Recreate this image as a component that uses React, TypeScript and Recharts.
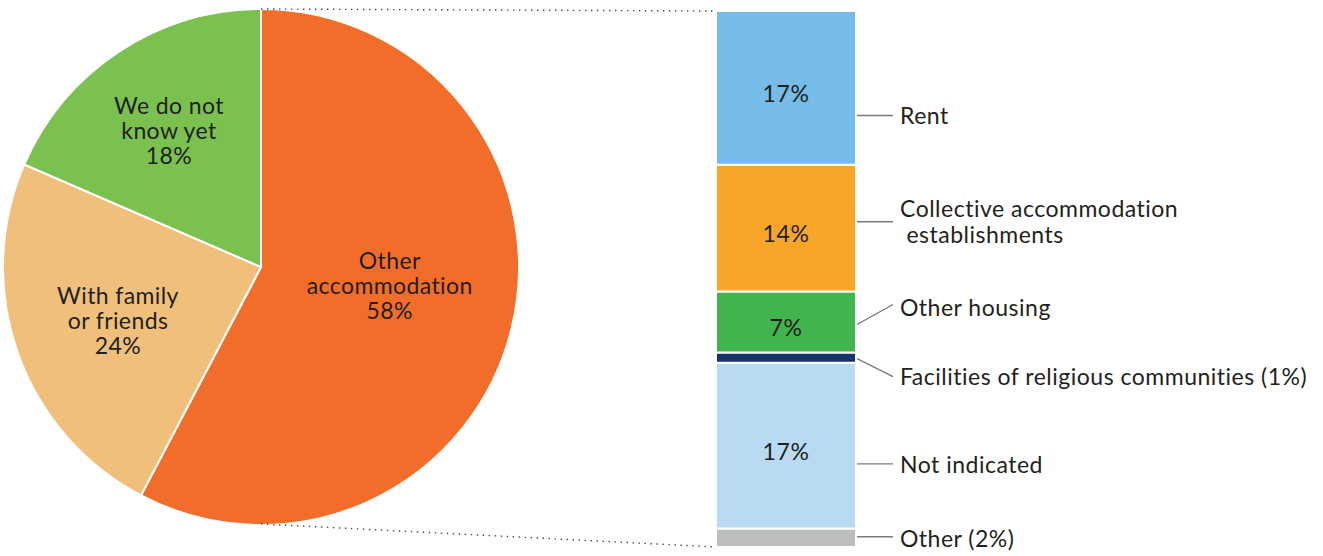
import { PieChart, Pie, Cell, BarChart, Bar, XAxis, YAxis } from "recharts";

// pie: where people intend to stay
const pieNames = ["Other accommodation", "With family or friends", "We do not know yet"];
const pieValues = [57.7, 23.8, 18.5];
const pieLines = [["Other", "accommodation", "58%"], ["With family", "or friends", "24%"], ["We do not", "know yet", "18%"]];
const pieColors = ["#F36D2A", "#F0BF7B", "#7AC150"];

// breakdown of "Other accommodation" (bottom segment first)
const barKeys = ["other", "notIndicated", "religious", "otherHousing", "collective", "rent"];
const barValues = [2.0, 17.9, 1.1, 6.6, 13.7, 16.6];
const barInner = ["", "17%", "", "7%", "14%", "17%"];
const barNames = [["Other (2%)"], ["Not indicated"], ["Facilities of religious communities (1%)"], ["Other housing"], ["Collective accommodation", " establishments"], ["Rent"]];
const barColors = ["#BCBEC0", "#B8DAF3", "#17326B", "#41B34F", "#F9A628", "#75BCE8"];

const W = 1323, H = 556;
const FONT = "Lato, 'Open Sans', sans-serif";
const INK = "#231F20";
const PIE = { cx: 261, cy: 267, r: 258 };
const BAR = { left: 716, right: 856, top: 11, bottom: 547 };

// label placement tweaks (layout only)
const pieLabelR = [130, 152.5, 165];
const pieLabelShift = [5.9, 0.9, 0.6];
const leadFrom = [0.45, 0.61, 0.6, 0.54, 0.45, 0.68];
const leadRise = [0, 0, 18, -20, 0, 0];
const textNudge = [1, 0, -1, 3, -1, 0];

const row: Record<string, number | string> = { name: "x" };
barKeys.forEach((k, i) => (row[k] = barValues[i]));
const barData = [row];
const total = barValues.reduce((a, b) => a + b, 0);
const pieData = pieNames.map((name, i) => ({ name, value: pieValues[i] }));

const RAD = Math.PI / 180;

function PieLabel(props: any) {
  const { cx, cy, midAngle, index } = props;
  const a = (midAngle + pieLabelShift[index]) * RAD;
  const r = pieLabelR[index];
  const x = cx + r * Math.cos(a);
  const y = cy - r * Math.sin(a);
  return (
    <text x={x} y={y} textAnchor="middle" fill={INK} fontFamily={FONT} fontSize={23} letterSpacing={0.4}>
      {pieLines[index].map((l, j) => (
        <tspan key={j} x={x} y={y + (j - 1) * 25} dominantBaseline="central">{l}</tspan>
      ))}
    </text>
  );
}

function SegLabel(i: number) {
  return (props: any) => {
    const { x, y, width, height } = props;
    const x0 = x + width + 1;
    const y0 = y + height * leadFrom[i];
    const y1 = y0 + leadRise[i];
    const lines = barNames[i];
    const tx = x + width + 44;
    const top = y1 + textNudge[i] - ((lines.length - 1) * 26) / 2;
    return (
      <g>
        {barInner[i] && (
          <text x={x + width / 2} y={y + height / 2 + 5} textAnchor="middle" dominantBaseline="central" fill={INK} fontFamily={FONT} fontSize={23} letterSpacing={0.6}>
            {barInner[i]}
          </text>
        )}
        <line x1={x0} y1={y0} x2={x0 + 36} y2={y1} stroke="#7A7A7A" strokeWidth={1.4} />
        <text x={tx} fill={INK} fontFamily={FONT} fontSize={23} letterSpacing={0.5} style={{ whiteSpace: "pre" }}>
          {lines.map((l, j) => (
            <tspan key={j} x={tx} y={top + j * 26} dominantBaseline="central">{l}</tspan>
          ))}
        </text>
        {i === barKeys.length - 1 && (
          <line x1={PIE.cx} y1={PIE.cy - PIE.r} x2={x} y2={y} stroke="#444" strokeWidth={1.4} strokeDasharray="1.4 4.6" />
        )}
        {i === 0 && (
          <line x1={PIE.cx} y1={PIE.cy + PIE.r - 1} x2={x} y2={y + height} stroke="#444" strokeWidth={1.4} strokeDasharray="1.4 4.6" />
        )}
      </g>
    );
  };
}

export default function App() {
  return (
    <div style={{ position: "absolute", left: 0, top: 0, width: W, height: H, background: "#fff" }}>
      <div style={{ position: "absolute", left: 0, top: 0 }}>
        <PieChart width={W} height={H} margin={{ top: 0, right: 0, bottom: 0, left: 0 }}>
          <Pie
            data={pieData}
            dataKey="value"
            cx={PIE.cx}
            cy={PIE.cy}
            outerRadius={PIE.r}
            startAngle={90}
            endAngle={-270}
            stroke="#fff"
            strokeWidth={2}
            label={PieLabel}
            labelLine={false}
            isAnimationActive={false}
          >
            {pieData.map((d, i) => (
              <Cell key={d.name} fill={pieColors[i]} />
            ))}
          </Pie>
        </PieChart>
      </div>
      <div style={{ position: "absolute", left: 0, top: 0 }}>
        <BarChart
          width={W}
          height={H}
          data={barData}
          barCategoryGap={0}
          margin={{ top: BAR.top, bottom: H - BAR.bottom, left: BAR.left, right: W - BAR.right }}
          style={{ overflow: "visible" }}
        >
          <XAxis dataKey="name" hide />
          <YAxis hide domain={[0, total]} />
          {barKeys.map((k, i) => (
            <Bar
              key={k}
              dataKey={k}
              stackId="s"
              fill={barColors[i]}
              stroke="#fff"
              strokeWidth={2}
              label={SegLabel(i)}
              isAnimationActive={false}
            />
          ))}
        </BarChart>
      </div>
    </div>
  );
}
